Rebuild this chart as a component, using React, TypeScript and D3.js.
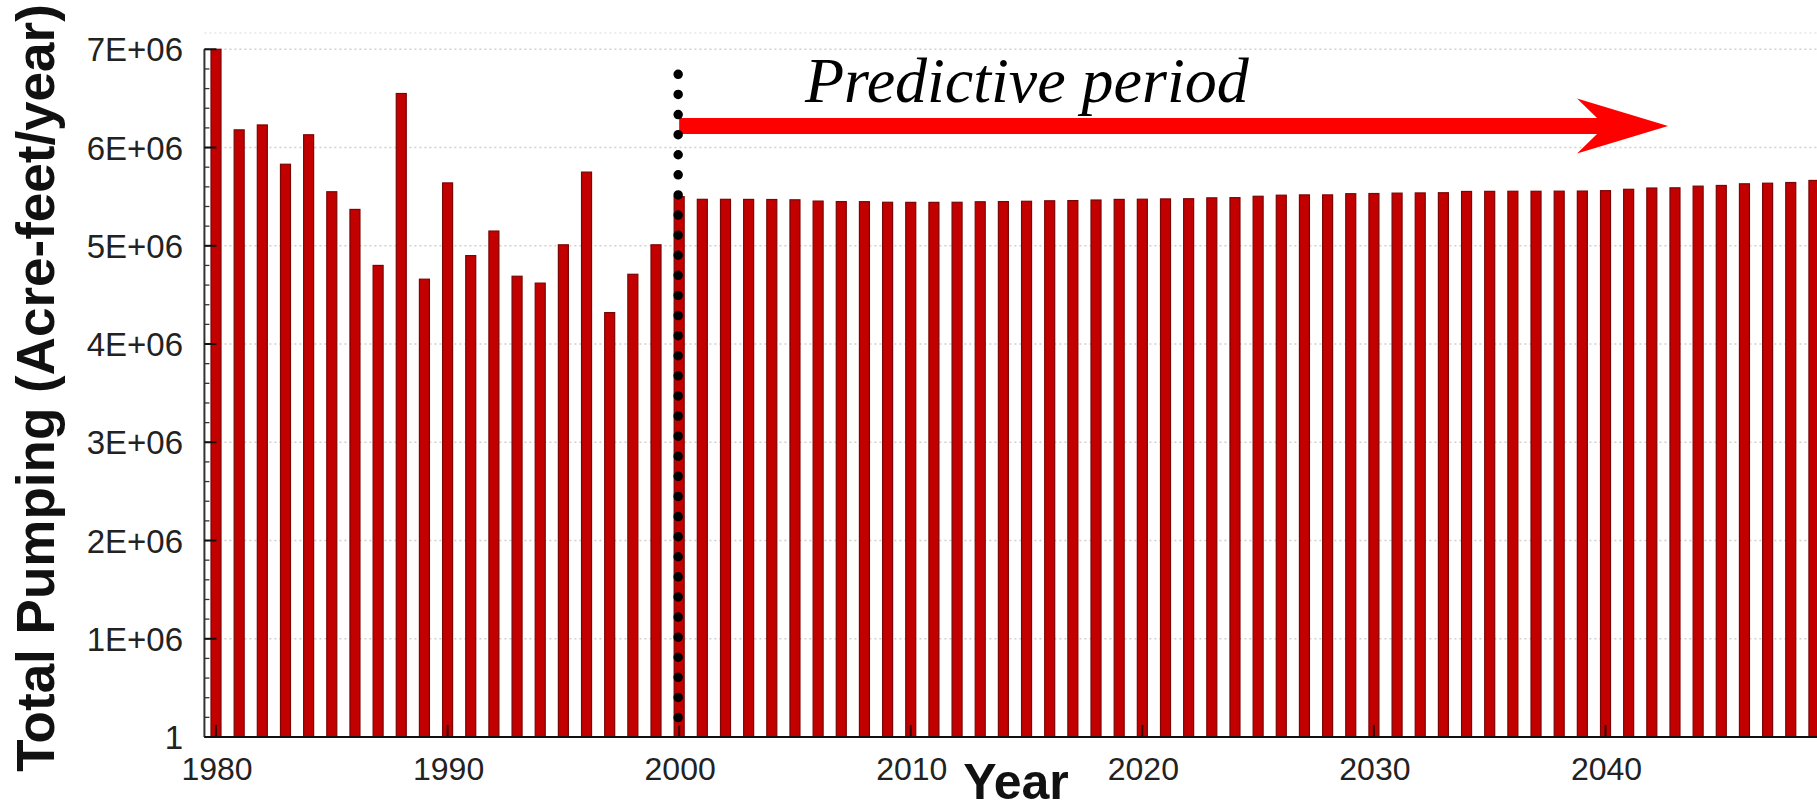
import React from "react";
import * as d3 from "d3";

// ---------- data ----------
const startYear = 1980;
// Historical (calibration) period 1980–1999, acre-feet/year
const historicalPumping = [
  7.0e6, 6.18e6, 6.23e6, 5.83e6, 6.13e6, 5.55e6, 5.37e6, 4.8e6, 6.55e6, 4.66e6,
  5.64e6, 4.9e6, 5.15e6, 4.69e6, 4.62e6, 5.01e6, 5.75e6, 4.32e6, 4.71e6, 5.01e6,
];
// Predictive period 2000–2049, acre-feet/year
const predictedPumping = [
  5.5e6, 5.473e6, 5.473e6, 5.472e6, 5.471e6, 5.468e6, 5.455e6, 5.45e6, 5.449e6, 5.443e6,
  5.442e6, 5.442e6, 5.443e6, 5.448e6, 5.45e6, 5.453e6, 5.458e6, 5.46e6, 5.466e6, 5.472e6,
  5.474e6, 5.477e6, 5.479e6, 5.488e6, 5.49e6, 5.504e6, 5.515e6, 5.518e6, 5.518e6, 5.53e6,
  5.532e6, 5.536e6, 5.538e6, 5.54e6, 5.553e6, 5.554e6, 5.555e6, 5.555e6, 5.556e6, 5.557e6,
  5.561e6, 5.575e6, 5.588e6, 5.59e6, 5.607e6, 5.614e6, 5.631e6, 5.637e6, 5.644e6, 5.665e6,
];
const yTicks = [1, 1e6, 2e6, 3e6, 4e6, 5e6, 6e6, 7e6];
const yTickLabels = ["1", "1E+06", "2E+06", "3E+06", "4E+06", "5E+06", "6E+06", "7E+06"];
const xTicks = [1980, 1990, 2000, 2010, 2020, 2030, 2040];
const xTickLabels = ["1980", "1990", "2000", "2010", "2020", "2030", "2040"];
const predictionStartYear = 2000;
const arrowEndYear = 2042.7;
const arrowValue = 6.22e6;
const annotationText = "Predictive period";
const yAxisTitle = "Total Pumping (Acre-feet/year)";
const xAxisTitle = "Year";

const W = 1817;
const H = 811;

export default function App() {
  const allValues = [...historicalPumping, ...predictedPumping];
  const data = allValues.map((v, i) => ({ year: startYear + i, value: v }));

  const x = d3.scaleLinear().domain([1980, 2040]).range([216, 1605.5]);
  const y = d3.scaleLinear().domain([0, 7e6]).range([737, 49.3]);

  const axisX = x(1979.5);
  const plotRight = W;
  const barW = 10;

  const minorTicks = d3.range(0, 7e6 + 1, 2e5);

  const sans = "'Liberation Sans', Arial, Helvetica, sans-serif";

  // arrow geometry
  const ax0 = x(predictionStartYear);
  const ax1 = x(arrowEndYear);
  const ay = y(arrowValue);
  const half = 8;
  const headLen = 91;
  const headHalf = 27.5;
  const notch = 20;
  const arrowPts = [
    [ax0, ay - half],
    [ax1 - headLen + notch, ay - half],
    [ax1 - headLen, ay - headHalf],
    [ax1, ay],
    [ax1 - headLen, ay + headHalf],
    [ax1 - headLen + notch, ay + half],
    [ax0, ay + half],
  ];

  return (
    <svg
      width={W}
      height={H}
      style={{ position: "absolute", left: 0, top: 0, background: "#fff" }}
    >
      <rect x={0} y={0} width={W} height={H} fill="#fff" />
      {/* gridlines */}
      <line x1={axisX} x2={plotRight} y1={33} y2={33} stroke="#e6e6e6" strokeWidth={1.5} strokeDasharray="2 3" />
      {yTicks.slice(1).map((t) => (
        <line
          key={"g" + t}
          x1={axisX}
          x2={plotRight}
          y1={y(t)}
          y2={y(t)}
          stroke="#cfcfcf"
          strokeWidth={1.6}
          strokeDasharray="2 3"
        />
      ))}
      {/* bars */}
      {data.map((d) => (
        <rect
          key={d.year}
          x={x(d.year) - barW / 2}
          y={y(d.value)}
          width={barW}
          height={y(0) - y(d.value)}
          fill="#c20000"
          stroke="#7a0505"
          strokeWidth={1.2}
        />
      ))}
      {/* x major ticks (inside) */}
      {xTicks.map((t) => (
        <line key={"xt" + t} x1={x(t)} x2={x(t)} y1={y(0)} y2={y(0) - 12} stroke="#300" strokeWidth={2} />
      ))}
      {/* axes */}
      <line x1={axisX} x2={plotRight} y1={y(0)} y2={y(0)} stroke="#111" strokeWidth={2.2} />
      <line x1={axisX} x2={axisX} y1={y(0)} y2={y(7e6)} stroke="#333" strokeWidth={2} />
      {minorTicks.map((t) => (
        <line key={"mt" + t} x1={axisX} x2={axisX + 5} y1={y(t)} y2={y(t)} stroke="#333" strokeWidth={1.3} />
      ))}
      {yTicks.map((t) => (
        <line key={"yt" + t} x1={axisX} x2={axisX + 12} y1={y(t)} y2={y(t)} stroke="#111" strokeWidth={2} />
      ))}
      {/* y tick labels */}
      {yTicks.map((t, i) => (
        <text
          key={"yl" + t}
          x={183}
          y={y(t) + 12}
          textAnchor="end"
          fontFamily={sans}
          fontSize={33}
          fill="#222"
        >
          {yTickLabels[i]}
        </text>
      ))}
      {/* x tick labels */}
      {xTicks.map((t, i) => (
        <text
          key={"xl" + t}
          x={x(t) + 1}
          y={780}
          textAnchor="middle"
          fontFamily={sans}
          fontSize={32}
          fill="#222"
        >
          {xTickLabels[i]}
        </text>
      ))}
      {/* axis titles */}
      <text
        transform={`translate(54, 388) rotate(-90)`}
        textAnchor="middle"
        fontFamily={sans}
        fontWeight="bold"
        fontSize={53}
        fill="#111"
      >
        {yAxisTitle}
      </text>
      <text x={1016} y={799} textAnchor="middle" fontFamily={sans} fontWeight="bold" fontSize={50} fill="#111">
        {xAxisTitle}
      </text>
      {/* predictive period annotation */}
      <polygon points={arrowPts.map((p) => p.join(",")).join(" ")} fill="#ff0000" />
      <line
        x1={x(predictionStartYear) - 1}
        x2={x(predictionStartYear) - 1}
        y1={y(6.745e6)}
        y2={y(0.19e6)}
        stroke="#000"
        strokeWidth={9.5}
        strokeLinecap="round"
        strokeDasharray="0 20.1"
      />
      <text
        x={805}
        y={102}
        fontFamily="'Liberation Serif', 'Times New Roman', Times, serif"
        fontStyle="italic"
        fontSize={64}
        fill="#000"
      >
        {annotationText}
      </text>
    </svg>
  );
}
